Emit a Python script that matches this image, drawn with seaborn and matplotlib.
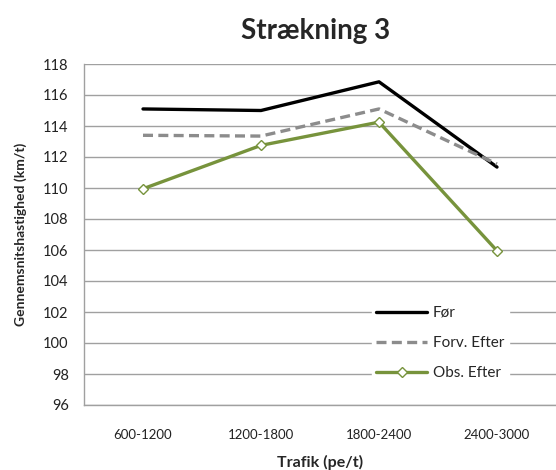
import matplotlib
matplotlib.use("Agg")
import matplotlib.pyplot as plt
import seaborn as sns
import pandas as pd
import numpy as np
from matplotlib.lines import Line2D

categories = ["600-1200", "1200-1800", "1800-2400", "2400-3000"]
foer = [115.1, 115.0, 116.85, 111.35]
forv_efter = [113.4, 113.35, 115.1, 111.55]
obs_efter = [109.95, 112.75, 114.25, 105.95]
series_names = ["Før", "Forv. Efter", "Obs. Efter"]

sns.set_style("white")
plt.rcParams['font.family'] = ['Lato', 'DejaVu Sans']

df = pd.DataFrame({
    "Trafik": categories * 3,
    "Hastighed": foer + forv_efter + obs_efter,
    "Serie": [series_names[0]] * 4 + [series_names[1]] * 4 + [series_names[2]] * 4,
})

fig = plt.figure(figsize=(5.56, 4.70), dpi=100)
ax = fig.add_axes([84/556, 65/470, 1 - 84/556, (405-64)/470])

colors = {"Før": "#000000", "Forv. Efter": "#8c8c8c", "Obs. Efter": "#77933c"}

for name in series_names:
    sub = df[df["Serie"] == name]
    kw = dict(color=colors[name], linewidth=2.4, ax=ax, legend=False, sort=False)
    if name == "Forv. Efter":
        l = sns.lineplot(data=sub, x="Trafik", y="Hastighed", **kw)
        l.lines[-1].set_dashes([3, 1.6])
    elif name == "Obs. Efter":
        sns.lineplot(data=sub, x="Trafik", y="Hastighed", marker="D",
                     markersize=5, markerfacecolor="white",
                     markeredgecolor=colors[name], markeredgewidth=1.0, **kw)
    else:
        sns.lineplot(data=sub, x="Trafik", y="Hastighed", **kw)

ax.set_xlim(-0.5, 3.5)
ax.set_ylim(96, 118)
ax.set_yticks(np.arange(96, 119, 2))
ax.yaxis.grid(True, color="#a0a0a0", linewidth=1.0)
ax.set_axisbelow(True)

ax.set_xticks(range(len(categories)))
ax.set_xticklabels(categories)
ax.set_xticks(np.arange(-0.5, 3.6, 1), minor=True)
ax.tick_params(axis="x", which="major", length=0, pad=17, labelsize=9.5, colors="#222222")
ax.tick_params(axis="x", which="minor", length=4, width=1, color="#a0a0a0", direction="out")
ax.tick_params(axis="y", which="major", length=4, width=1, color="#a0a0a0", direction="out",
               labelsize=10.5, pad=7, labelcolor="#222222")

for s in ["top", "right"]:
    ax.spines[s].set_visible(False)
for s in ["left", "bottom"]:
    ax.spines[s].set_color("#a0a0a0")
    ax.spines[s].set_linewidth(1.0)

ax.set_xlabel("Trafik (pe/t)", fontsize=11.5, fontweight="bold", labelpad=10)
ax.set_ylabel("Gennemsnitshastighed (km/t)", fontsize=10, fontweight="bold", labelpad=12)
ax.set_title("Strækning 3", fontsize=20, fontweight="bold", pad=18, x=0.49)

handles = [
    Line2D([], [], color=colors["Før"], linewidth=2.4),
    Line2D([], [], color=colors["Forv. Efter"], linewidth=2.4, dashes=[3, 1.6]),
    Line2D([], [], color=colors["Obs. Efter"], linewidth=2.4, marker="D", markersize=5,
           markerfacecolor="white", markeredgecolor=colors["Obs. Efter"], markeredgewidth=1.0),
]
leg = ax.legend(handles, series_names, loc="lower right", bbox_to_anchor=(0.9, 0.06),
                frameon=True, fontsize=11, handlelength=3.3, labelspacing=1.05,
                borderpad=0.3, handletextpad=0.4, borderaxespad=0)
leg.get_frame().set_edgecolor("white")
leg.get_frame().set_facecolor("white")
leg.get_frame().set_alpha(1.0)
leg.get_frame().set_boxstyle("square", pad=0)

fig.savefig("out.png", dpi=100)
